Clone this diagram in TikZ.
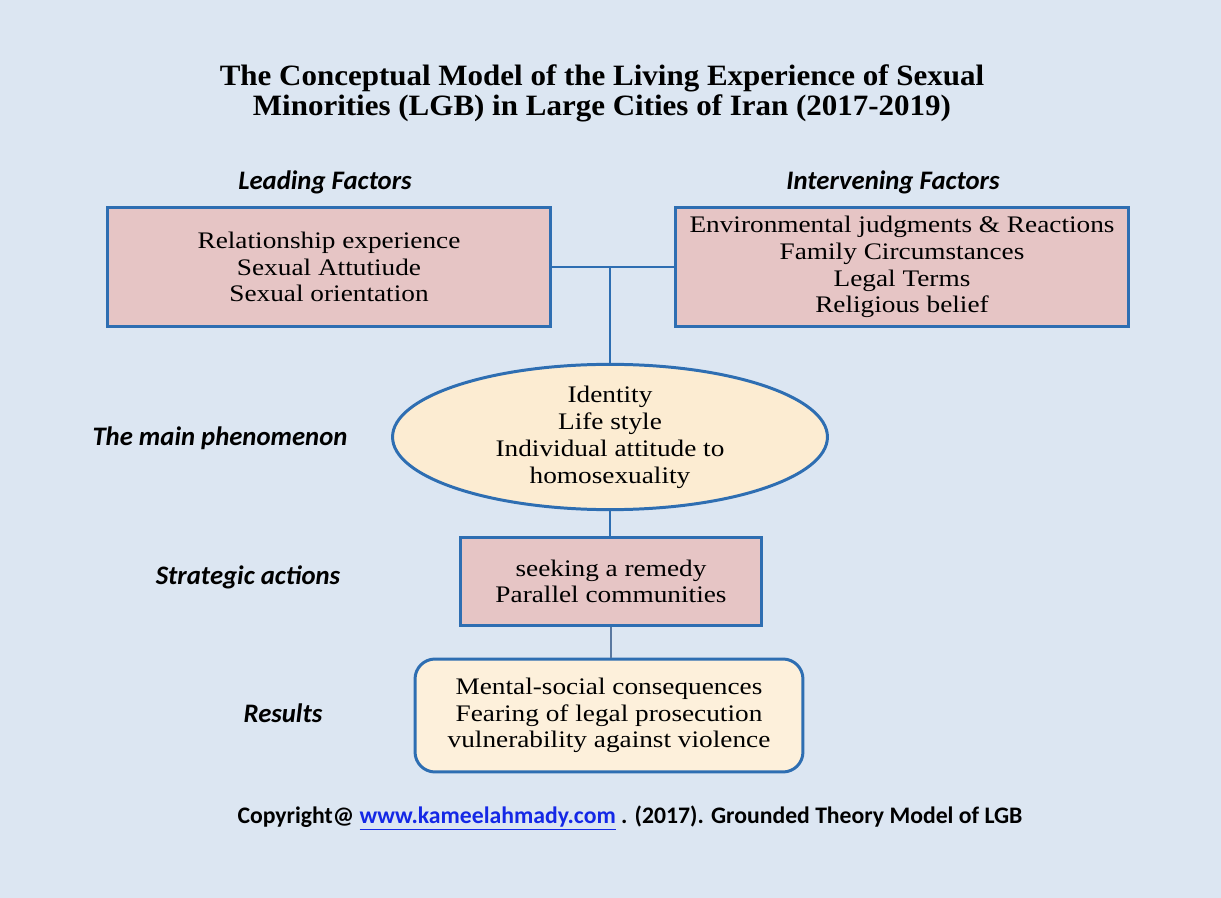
\documentclass[tikz,border=0pt]{standalone}
\usepackage{fontspec}
\usetikzlibrary{shapes.geometric}
\newfontfamily\bodyfont[FakeStretch=1.15]{Liberation Serif}
\newfontfamily\titlefont[FakeStretch=1.05]{Liberation Serif}
\newfontfamily\labelfont{Carlito}
\definecolor{bgblue}{RGB}{220,230,242}
\definecolor{edgeblue}{RGB}{46,110,178}
\definecolor{linkgray}{RGB}{90,120,160}
\definecolor{boxpink}{RGB}{230,197,197}
\definecolor{boxcream}{RGB}{252,236,210}
\definecolor{urlblue}{RGB}{20,40,230}
\tikzset{
  factorbox/.style = {draw=edgeblue, line width=1.7pt, fill=boxpink, align=center,
    font=\bodyfont\fontsize{13.5pt}{14.9pt}\selectfont, inner sep=2pt},
  phenbox/.style = {ellipse, draw=edgeblue, line width=1.7pt, fill=boxcream, align=center,
    font=\bodyfont\fontsize{13.5pt}{15.4pt}\selectfont, inner sep=0pt},
  resultbox/.style = {factorbox, fill=boxcream!80!white, rounded corners=0.4cm},
  sidelabel/.style = {font=\labelfont\bfseries\itshape\fontsize{15.2pt}{17pt}\selectfont},
  link/.style = {draw=edgeblue, line width=1.4pt}
}
\begin{document}
\begin{tikzpicture}[x = 0.02cm, y = -0.02cm]
    \fill [bgblue] (0,0) rectangle (1221,898);
    % title
    \node (title) at (602,93) [align=center, font=\titlefont\bfseries\fontsize{16.8pt}{17.2pt}\selectfont]
      {The Conceptual Model of the Living Experience of Sexual\\
       Minorities (LGB) in Large Cities of Iran (2017-2019)};
    % factors
    \node (leadlbl) at (325,182) [sidelabel] {Leading Factors};
    \node (intlbl) at (893,182) [sidelabel] {Intervening Factors};
    \node (lead) at (329,267) [factorbox, minimum width=8.88cm, minimum height=2.4cm]
      {Relationship experience\\ Sexual Attutiude\\ Sexual orientation};
    \node (interv) at (902,267) [factorbox, minimum width=9.08cm, minimum height=2.4cm,
      font=\bodyfont\fontsize{13.5pt}{15.3pt}\selectfont]
      {Environmental judgments \& Reactions\\ Family Circumstances\\ Legal Terms\\ Religious belief};
    % main phenomenon
    \node (phen) at (610,437) [phenbox, minimum width=8.7cm, minimum height=2.7cm]
      {Identity\\ Life style\\ Individual attitude to\\ homosexuality};
    \node (phenlbl) at (220,438) [sidelabel] {The main phenomenon};
    % strategies and results
    \node (strat) at (611,581.5) [factorbox, minimum width=6.04cm, minimum height=1.78cm]
      {seeking a remedy\\ Parallel communities};
    \node (stratlbl) at (248,577) [sidelabel] {Strategic actions};
    \node (result) at (609,715.5) [resultbox, minimum width=7.76cm, minimum height=2.26cm]
      {Mental-social consequences\\ Fearing of legal prosecution\\ vulnerability against violence};
    \node (reslbl) at (283,713) [sidelabel] {Results};
    % connectors
    \draw [link] (lead.east) -- (interv.west);
    \coordinate (junc) at (lead.east -| phen.north);
    \draw [link] (junc) -- (phen.north);
    \draw [link] (phen.south) -- (phen.south |- strat.north);
    \draw [link, draw=linkgray] (strat.south) -- (strat.south |- result.north);
    % copyright
    \node (copy) at (630,818) [font=\labelfont\bfseries\fontsize{13.5pt}{15pt}\selectfont]
      {Copyright@ {\color{urlblue}\underline{www.kameelahmady.com}} . (2017). Grounded Theory Model of LGB};
\end{tikzpicture}
\end{document}
